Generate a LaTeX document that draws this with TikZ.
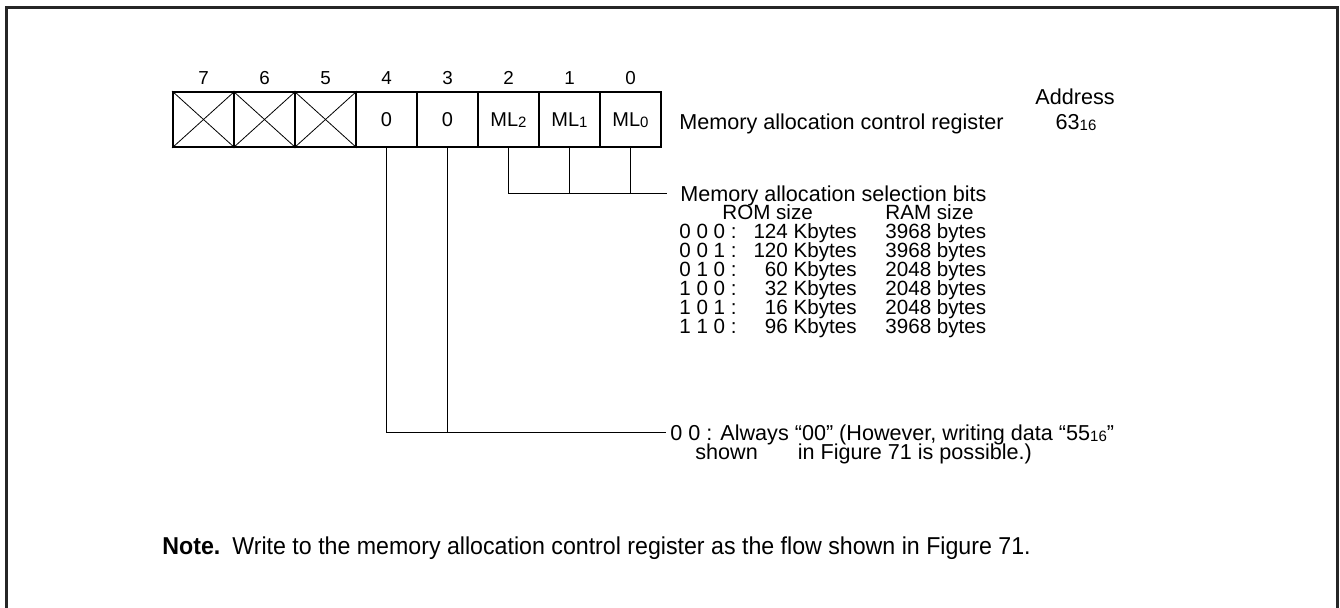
\documentclass[tikz,border=0pt]{standalone}
\usepackage{fontspec}
\setmainfont{Liberation Sans}
\newfontfamily\notefont[FakeStretch=0.95]{Liberation Sans}
\newcommand\lowsub[1]{\raisebox{-0.4pt}{\fontsize{7.5}{8}\selectfont #1}}
\begin{document}
\begin{tikzpicture}[x=0.5pt,y=-0.5pt,
  cell/.style={draw,line width=0.9pt,minimum width=30.5pt,minimum height=27.5pt,inner sep=0pt,
    text height=7.1pt,text depth=0pt,font=\fontsize{10}{11}\selectfont},
  bitnum/.style={inner sep=0pt,text height=6.7pt,text depth=0pt,font=\fontsize{9.4}{11}\selectfont},
  txt/.style={inner sep=0pt,anchor=west,text height=7.7pt,text depth=0pt,font=\fontsize{10.8}{12}\selectfont},
  txte/.style={txt,anchor=east},
  txtc/.style={txt,anchor=center},
  tab/.style={txt,text height=7.3pt,font=\fontsize{10.3}{11}\selectfont},
  tabe/.style={tab,anchor=east},
  notetxt/.style={txt,text height=8.7pt,font=\fontsize{12.2}{14}\selectfont\notefont},
  conn/.style={line width=0.5pt},
  cross/.style={line width=0.4pt}]
\useasboundingbox (0,0) rectangle (1340,608);
% frame
\draw[line width=1.4pt,black!85] (6.5,608) -- (6.5,7.5) -- (1337.5,7.5) -- (1337.5,608);
% register cells
\node[cell] (b7) at (203.5,119.5) {};
\node[cell] (b6) at (264.5,119.5) {};
\node[cell] (b5) at (325.5,119.5) {};
\node[cell] (b4) at (386.5,119.5) {0};
\node[cell] (b3) at (447.5,119.5) {0};
\node[cell] (b2) at (508.5,119.5) {ML\lowsub{2}};
\node[cell] (b1) at (569.5,119.5) {ML\lowsub{1}};
\node[cell] (b0) at (630.5,119.5) {ML\lowsub{0}};
\foreach \c in {b7,b6,b5}{
  \draw[cross] (\c.north west) -- (\c.south east);
  \draw[cross] (\c.south west) -- (\c.north east);
}
% bit numbers
\node[bitnum] (n7) at (203.5,78) {7};
\node[bitnum] (n6) at (264.5,78) {6};
\node[bitnum] (n5) at (325.5,78) {5};
\node[bitnum] (n4) at (386.5,78) {4};
\node[bitnum] (n3) at (447.5,78) {3};
\node[bitnum] (n2) at (508.5,78) {2};
\node[bitnum] (n1) at (569.5,78) {1};
\node[bitnum] (n0) at (630.5,78) {0};
% labels
\node[txt] (regname) at (679,122) {Memory allocation control register};
\node[txtc] (addr) at (1075,97) {Address};
\node[txtc] (addrval) at (1076,122) {63\lowsub{16}};
% selection bits
\coordinate (j2) at (667,193.5);
\draw[conn] (b2.south) |- (j2);
\draw[conn] (b1.south) -- (b1.south |- j2);
\draw[conn] (b0.south) -- (b0.south |- j2);
\node[txt] (selbits) at (680,193.5) {Memory allocation selection bits};
\node[tab] (romh) at (722,212.5) {ROM size};
\node[tab] (ramh) at (885,212.5) {RAM size};
\node[tab] (c1) at (679,231) {0 0 0 :};
\node[tabe] (r1) at (857,231) {124 Kbytes};
\node[tab] (a1) at (885,231) {3968 bytes};
\node[tab] (c2) at (679,250) {0 0 1 :};
\node[tabe] (r2) at (857,250) {120 Kbytes};
\node[tab] (a2) at (885,250) {3968 bytes};
\node[tab] (c3) at (679,269) {0 1 0 :};
\node[tabe] (r3) at (857,269) {60 Kbytes};
\node[tab] (a3) at (885,269) {2048 bytes};
\node[tab] (c4) at (679,288) {1 0 0 :};
\node[tabe] (r4) at (857,288) {32 Kbytes};
\node[tab] (a4) at (885,288) {2048 bytes};
\node[tab] (c5) at (679,307) {1 0 1 :};
\node[tabe] (r5) at (857,307) {16 Kbytes};
\node[tab] (a5) at (885,307) {2048 bytes};
\node[tab] (c6) at (679,326) {1 1 0 :};
\node[tabe] (r6) at (857,326) {96 Kbytes};
\node[tab] (a6) at (885,326) {3968 bytes};
% bits 4,3
\coordinate (j1) at (666,433);
\draw[conn] (b4.south) |- (j1);
\draw[conn] (b3.south) -- (b3.south |- j1);
\node[txt] (always) at (670,433) {0 0 : Always \textquotedblleft00\textquotedblright\ (However, writing data \textquotedblleft55\lowsub{16}\textquotedblright};
\node[txt] (always2) at (695,452) {shown\hspace{20pt}in Figure 71 is possible.)};
% note
\node[notetxt,font=\fontsize{12.2}{14}\selectfont\notefont\bfseries] (notehead) at (162,546) {Note.};
\node[notetxt] (notebody) at (232,546) {Write to the memory allocation control register as the flow shown in Figure 71.};
\end{tikzpicture}
\end{document}
